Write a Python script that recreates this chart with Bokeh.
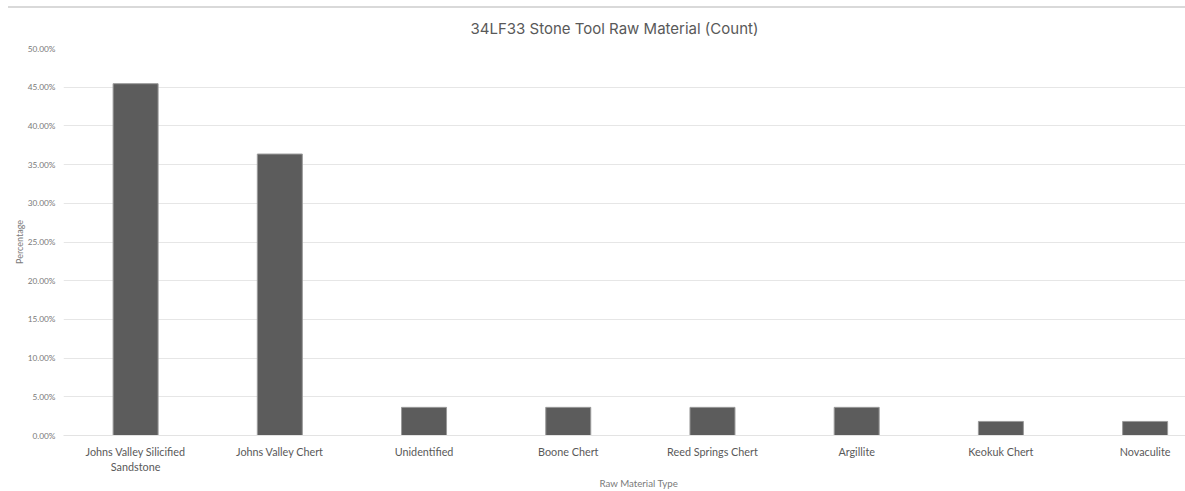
from bokeh.plotting import figure
from bokeh.models import (ColumnDataSource, FixedTicker, NumeralTickFormatter,
                          Range1d, Title)
from bokeh.embed import file_html
from bokeh.resources import INLINE

# Raw material counts for site 34LF33, expressed as share of the total (55 tools)
materials = ["Johns Valley Silicified\nSandstone", "Johns Valley Chert", "Unidentified",
             "Boone Chert", "Reed Springs Chert", "Argillite", "Keokuk Chert", "Novaculite"]
counts = [25, 20, 2, 2, 2, 2, 1, 1]
total = sum(counts)
shares = [c / total for c in counts]
y_ticks = [0.0, 0.05, 0.10, 0.15, 0.20, 0.25, 0.30, 0.35, 0.40, 0.45, 0.50]

idx = list(range(len(materials)))
src = ColumnDataSource(data=dict(x=idx, share=shares))

p = figure(width=1177, height=483,
           x_range=Range1d(-0.5, 7.28), y_range=Range1d(0, 0.5),
           output_backend="svg", toolbar_location=None,
           min_border_left=55, min_border_right=0, min_border_top=40,
           min_border_bottom=56,
           styles={"margin-left": "8px", "margin-top": "6px",
                   "border-top": "2px solid #d9d9d9"})
p.outline_line_color = None
p.background_fill_color = "white"
p.border_fill_color = "white"

p.vbar(x="x", top="share", width=0.312, source=src,
       fill_color="#5c5c5c", line_color="#9a9a9a", line_width=1)

# y axis
p.yaxis.ticker = FixedTicker(ticks=y_ticks)
p.yaxis.formatter = NumeralTickFormatter(format="0.00%")
p.yaxis.axis_line_color = None
p.yaxis.major_tick_line_color = None
p.yaxis.major_tick_out = 0
p.yaxis.major_tick_in = 0
p.yaxis.minor_tick_line_color = None
p.yaxis.minor_tick_out = 0
p.yaxis.major_label_standoff = 8
p.yaxis.major_label_text_font = "Lato"
p.yaxis.major_label_text_font_size = "8.3px"
p.yaxis.major_label_text_color = "#7a7a7a"
p.yaxis.axis_label = "Percentage"
p.yaxis.axis_label_text_font = "Lato"
p.yaxis.axis_label_text_font_size = "9px"
p.yaxis.axis_label_text_font_style = "normal"
p.yaxis.axis_label_text_color = "#7a7a7a"
p.yaxis.axis_label_standoff = 0

# x axis
p.xaxis.ticker = FixedTicker(ticks=idx)
p.xaxis.major_label_overrides = {i: m for i, m in zip(idx, materials)}
p.xaxis.axis_line_color = "#e3e3e3"
p.xaxis.major_tick_line_color = None
p.xaxis.major_tick_out = 0
p.xaxis.major_tick_in = 0
p.xaxis.minor_tick_line_color = None
p.xaxis.minor_tick_out = 0
p.xaxis.major_label_standoff = 9
p.xaxis.major_label_text_font = "Lato"
p.xaxis.major_label_text_font_size = "10.8px"
p.xaxis.major_label_text_color = "#595959"

p.xgrid.grid_line_color = None
p.ygrid.grid_line_color = "#e6e6e6"
p.ygrid.grid_line_width = 1

# chart title
p.title = Title(text="34LF33 Stone Tool Raw Material (Count)", align="left", offset=407,
                standoff=18, vertical_align="top", text_font="Inter",
                text_font_size="15px", text_font_style="normal", text_color="#595959")

# x axis title
p.add_layout(Title(text="Raw Material Type", align="left", offset=536,
                   standoff=0, vertical_align="top", text_font="Lato",
                   text_font_size="9.7px", text_font_style="normal",
                   text_color="#7a7a7a"), "below")

open("out.html", "w").write(file_html(p, INLINE))
